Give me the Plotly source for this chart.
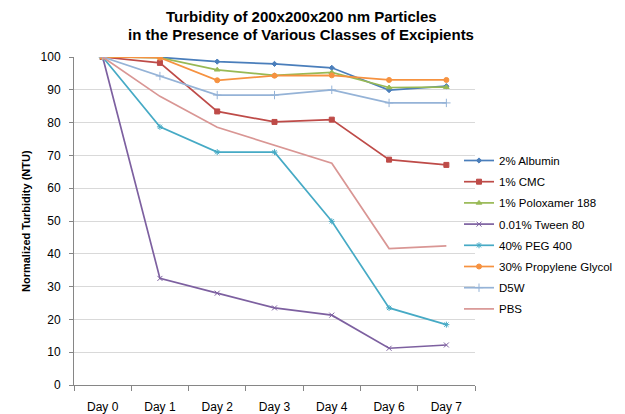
import plotly.graph_objects as go

days = ["Day 0", "Day 1", "Day 2", "Day 3", "Day 4", "Day 6", "Day 7"]

albumin = [100, 99.9, 98.6, 97.9, 96.7, 89.9, 91.1]
cmc = [100, 98.2, 83.4, 80.2, 80.9, 68.7, 67.1]
poloxamer = [100, 99.8, 96.1, 94.4, 95.3, 90.7, 90.8]
tween = [100, 32.5, 28.0, 23.5, 21.3, 11.2, 12.2]
peg400 = [100, 78.7, 71.0, 71.0, 49.9, 23.5, 18.4]
propylene = [100, 99.8, 92.9, 94.3, 94.4, 93.0, 93.0]
d5w = [100, 94.2, 88.4, 88.4, 90.0, 86.0, 86.0]
pbs = [100, 88.0, 78.6, 73.1, 67.6, 41.6, 42.4]

series = [
    ("2% Albumin", albumin, "#4A7EBB", "diamond", 4),
    ("1% CMC", cmc, "#BE4B48", "square", 5),
    ("1% Poloxamer 188", poloxamer, "#98B954", "triangle-up", 5),
    ("0.01% Tween 80", tween, "#7D60A0", "x-thin-open", 5),
    ("40% PEG 400", peg400, "#46AAC5", "asterisk-open", 5),
    ("30% Propylene Glycol", propylene, "#F69240", "circle", 5),
    ("D5W", d5w, "#95B3D7", "cross-thin-open", 6),
    ("PBS", pbs, "#D99694", None, 0),
]

title_lines = ["Turbidity of 200x200x200 nm Particles",
               "in the Presence of Various Classes of Excipients"]

fig = go.Figure()
for i, (name, vals, color, sym, size) in enumerate(series):
    if sym is None:
        fig.add_trace(go.Scatter(x=days, y=vals, name=name, mode="lines",
                                 legendgroup=f"g{i}",
                                 line=dict(color=color, width=1.7)))
    else:
        fig.add_trace(go.Scatter(x=days, y=vals, name=name, mode="lines+markers",
                                 legendgroup=f"g{i}",
                                 line=dict(color=color, width=1.7),
                                 marker=dict(symbol=sym, size=size, color=color,
                                             line=dict(color=color, width=1))))

# figure is offset by the page's 8px body margin
W, H = 617, 406
L, T, PW, PH = 66, 49, 401, 328
annotations = []
for line, ypix in zip(title_lines, [9, 26]):
    annotations.append(dict(text=f"<b>{line}</b>", xref="paper", yref="paper",
                            x=(293 - L) / PW, y=1 + (T - ypix) / PH,
                            xanchor="center", yanchor="middle", showarrow=False,
                            font=dict(size=15, color="#000")))
annotations.append(dict(text="<b>Normalized Turbidity (NTU)</b>", textangle=-90,
                        xref="paper", yref="paper", x=(18 - L) / PW, y=0.5,
                        xanchor="center", yanchor="middle", showarrow=False,
                        font=dict(size=11, color="#000")))

fig.update_layout(
    width=W, height=H,
    margin=dict(l=L, r=W - L - PW, t=T, b=H - T - PH, autoexpand=False),
    paper_bgcolor="white", plot_bgcolor="white",
    font=dict(family="Liberation Sans, Arial, sans-serif", size=12, color="#000"),
    showlegend=True,
    legend=dict(x=(451 - L) / PW, xanchor="left", y=1 - (138 - T) / PH, yanchor="top",
                font=dict(size=11.5), tracegroupgap=2.2,
                bgcolor="rgba(0,0,0,0)", itemwidth=30),
    xaxis=dict(type="category", range=[-0.5, 6.5], showgrid=False, automargin=False,
               showline=True, linecolor="#868686", linewidth=1,
               ticks="outside", tickson="boundaries", ticklen=5, tickcolor="#868686",
               ticklabelstandoff=11, tickfont=dict(size=12)),
    yaxis=dict(range=[0, 100], dtick=10, showgrid=True, gridcolor="#D9D9D9", automargin=False,
               gridwidth=1, showline=True, linecolor="#868686", linewidth=1,
               ticks="outside", ticklen=4, tickcolor="#868686", zeroline=False,
               ticklabelstandoff=6, tickfont=dict(size=12)),
    annotations=annotations,
)

fig.write_html("out.html")
